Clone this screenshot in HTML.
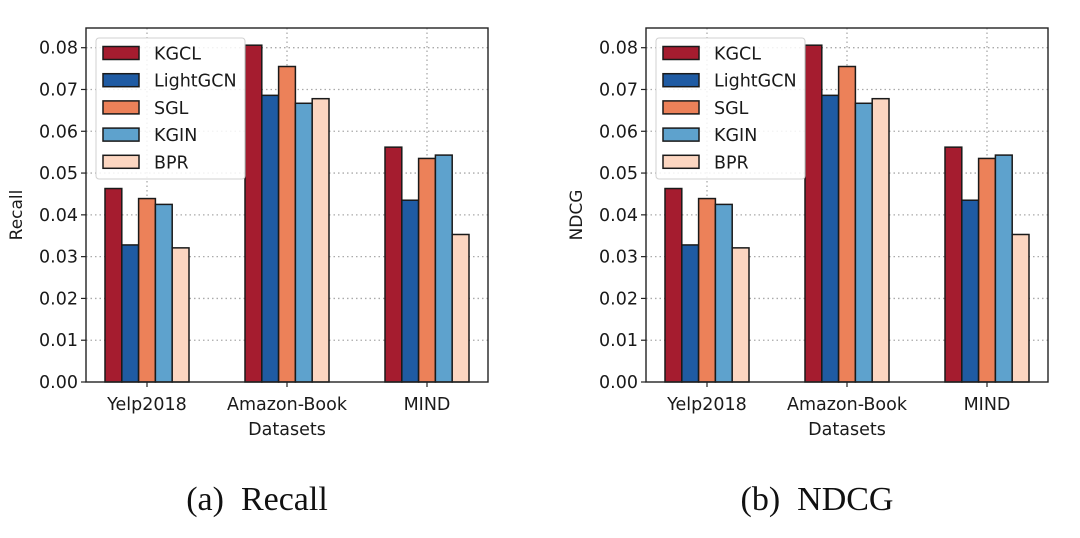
<!DOCTYPE html>
<html><head><meta charset="utf-8"><style>
body{margin:0;background:#fff;}
svg{display:block;font-family:"DejaVu Sans","Liberation Sans",sans-serif;}
</style></head><body>
<svg id="svg" width="1080" height="538" viewBox="0 0 1080 538"></svg>
<script>
const categories = ["Yelp2018","Amazon-Book","MIND"];
const methods = ["KGCL","LightGCN","SGL","KGIN","BPR"];
const colors = ["#a51c2f","#1f5ba3","#ec8159","#5ea2cd","#fcd6c1"];
const recallKGCL = [0.0463,0.0806,0.0562];
const recallLightGCN = [0.0328,0.0686,0.0435];
const recallSGL = [0.0439,0.0755,0.0535];
const recallKGIN = [0.0425,0.0667,0.0543];
const recallBPR = [0.0321,0.0678,0.0353];
const ndcgKGCL = [0.0463,0.0806,0.0562];
const ndcgLightGCN = [0.0328,0.0686,0.0435];
const ndcgSGL = [0.0439,0.0755,0.0535];
const ndcgKGIN = [0.0425,0.0667,0.0543];
const ndcgBPR = [0.0321,0.0678,0.0353];
const yTicks = [0,0.01,0.02,0.03,0.04,0.05,0.06,0.07,0.08];
const yTickLabels = ["0.00","0.01","0.02","0.03","0.04","0.05","0.06","0.07","0.08"];

const NS="http://www.w3.org/2000/svg";
const svg=document.getElementById('svg');
function mk(tag,attrs,parent){const e=document.createElementNS(NS,tag);for(const k in attrs)e.setAttribute(k,attrs[k]);(parent||svg).appendChild(e);return e;}

function drawChart(ox,series,ylabel,caption,prefix){
  const L=86+ox,R=488+ox,T=28,B=382;
  const yScale=v=>B-(v/0.08)*(B-47.7);
  const xCenter=i=>147+ox+i*140;
  const bw=16.8;
  const g=mk('g',{});
  
  
  yTicks.forEach((t,i)=>{
    const y=yScale(t);
    if(i>0){const gl=mk('line',{x1:L,x2:R,y1:y,y2:y,stroke:'#aaa','stroke-width':1.3,'stroke-dasharray':'1.5,3'},g);
      }
    const tk=mk('line',{x1:L-5,x2:L,y1:y,y2:y,stroke:'#222','stroke-width':1.2},g);
    
    const tl=mk('text',{x:L-8,y:y+6,'text-anchor':'end','font-size':17.5,fill:'#1a1a1a'},g);
    tl.textContent=yTickLabels[i];
    
  });
  categories.forEach((c,i)=>{
    const x=xCenter(i);
    const gl=mk('line',{x1:x,x2:x,y1:T,y2:B,stroke:'#aaa','stroke-width':1.3,'stroke-dasharray':'1.5,3'},g);
    
  });
  series.forEach((vals,s)=>{
    vals.forEach((v,i)=>{
      const x=xCenter(i)-2.5*bw+s*bw;
      const y=yScale(v);
      const r=mk('rect',{x:x,y:y,width:bw,height:B-y,fill:colors[s],stroke:'#1a1a1a','stroke-width':1.5},g);
      
      
    });
  });
  categories.forEach((c,i)=>{
    const x=xCenter(i);
    const tk=mk('line',{x1:x,x2:x,y1:B,y2:B+5,stroke:'#222','stroke-width':1.2},g);
    
    const tl=mk('text',{x:x,y:B+28,'text-anchor':'middle','font-size':17.5,fill:'#1a1a1a'},g);
    tl.textContent=c;
    
  });
  const fr=mk('rect',{x:L,y:T,width:R-L,height:B-T,fill:'none',stroke:'#222','stroke-width':1.4},g);
  
  const xt=mk('text',{x:(L+R)/2,y:435,'text-anchor':'middle','font-size':17.5,fill:'#1a1a1a'},g);
  xt.textContent='Datasets';
  
  const yt=mk('text',{x:0,y:0,'text-anchor':'middle','font-size':17,fill:'#1a1a1a',transform:`translate(${22+ox},215) rotate(-90)`},g);
  yt.textContent=ylabel;
  
  const lg=mk('g',{},g);
  
  mk('rect',{x:96+ox,y:38,width:149,height:141,rx:3,fill:'#fff','fill-opacity':0.85,stroke:'#d0d0d0','stroke-width':1},lg);
  methods.forEach((m,s)=>{
    const y=53+s*27.2;
    const e=mk('g',{},lg);
    
    mk('rect',{x:103+ox,y:y-6.5,width:36,height:13,fill:colors[s],stroke:'#1a1a1a','stroke-width':1.5},e);
    const t=mk('text',{x:154+ox,y:y+6.5,'font-size':17.5,fill:'#1a1a1a'},e);
    t.textContent=m;
  });
  const cp=mk('text',{x:257+ox,y:510,'text-anchor':'middle','font-size':34,fill:'#111','font-family':'"Liberation Serif",serif'},g);
  cp.textContent=caption;
  
}
drawChart(0,[recallKGCL,recallLightGCN,recallSGL,recallKGIN,recallBPR],'Recall','(a)\u00a0 Recall','recall');
drawChart(560,[ndcgKGCL,ndcgLightGCN,ndcgSGL,ndcgKGIN,ndcgBPR],'NDCG','(b)\u00a0 NDCG','ndcg');
</script>
</body></html>
